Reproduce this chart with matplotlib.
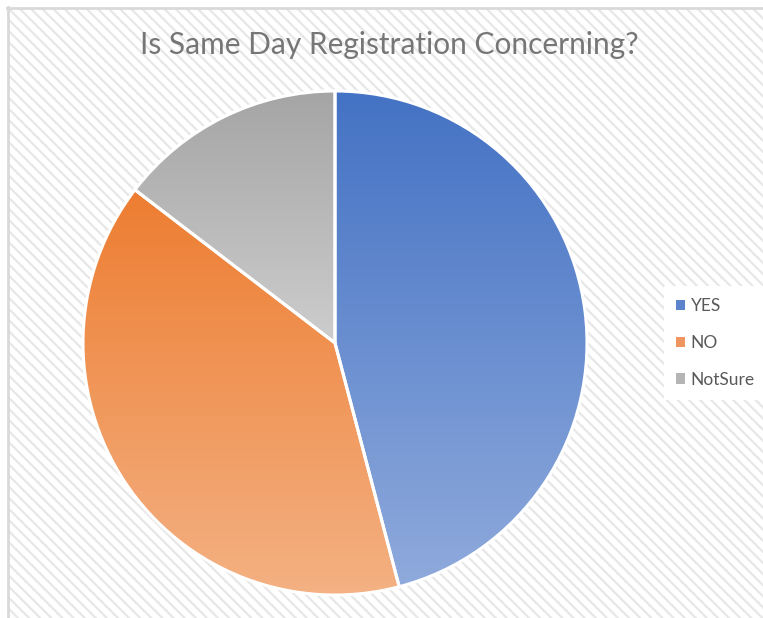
import numpy as np
import matplotlib
matplotlib.use("Agg")
import matplotlib.pyplot as plt
from matplotlib.patches import Rectangle, Patch
from matplotlib.lines import Line2D

labels = ["YES", "NO", "NotSure"]
values = [45.9, 39.5, 14.6]
top_colors = [(68, 114, 196), (237, 125, 49), (165, 165, 165)]
bottom_colors = [(143, 170, 220), (244, 177, 131), (205, 205, 205)]
legend_colors = ["#5b84cc", "#f09560", "#b5b5b5"]
title = "Is Same Day Registration Concerning?"

W, H = 763, 618
plt.rcParams["hatch.linewidth"] = 1.6
plt.rcParams["hatch.color"] = "#e7e7e7"
fig = plt.figure(figsize=(W / 100, H / 100), dpi=100)
fig.patch.set_facecolor("white")

# hatched background and frame
bg = Rectangle((8 / W, 0), 1, 1 - 8 / H, transform=fig.transFigure,
               facecolor="white", edgecolor="#e7e7e7", hatch="\\\\\\",
               linewidth=0, zorder=-5)
fig.patches.append(bg)
fig.add_artist(Line2D([7 / W, 1], [1 - 8 / H, 1 - 8 / H], transform=fig.transFigure,
                      color="#d9d9d9", lw=2, zorder=-4))
fig.add_artist(Line2D([8 / W, 8 / W], [0, 1 - 7 / H], transform=fig.transFigure,
                      color="#d9d9d9", lw=2, zorder=-4))

cx, cy, r = 335, 343, 252
ax = fig.add_axes([(cx - r) / W, (H - cy - r) / H, 2 * r / W, 2 * r / H])
ax.set_zorder(1)
ax.set_facecolor("none")
ax.patch.set_alpha(0)
wedges, _ = ax.pie(values, startangle=90, counterclock=False,
                   wedgeprops=dict(facecolor="none", edgecolor="white", linewidth=2.2))
for w in wedges:
    w.set_zorder(3)

for w, tc, bc in zip(wedges, top_colors, bottom_colors):
    ext = w.get_path().get_extents()
    n = 256
    t = np.linspace(0, 1, n)[:, None]
    tcol = np.array(tc) / 255.0
    bcol = np.array(bc) / 255.0
    grad = tcol[None, :] * (1 - t) + bcol[None, :] * t
    img = np.repeat(grad[:, None, :], 2, axis=1)
    im = ax.imshow(img, extent=[ext.x0, ext.x1, ext.y0, ext.y1], origin="upper",
                   aspect="auto", zorder=2, interpolation="bilinear")
    im.set_clip_path(w)

ax.set_xlim(-1, 1)
ax.set_ylim(-1, 1)
ax.set_aspect("auto")
ax.axis("off")

fig.text(389 / W, 1 - 45 / H, title, ha="center", va="center",
         fontsize=21.5, color="#767676", family="Lato", zorder=5)

handles = [Patch(facecolor=c, edgecolor="none") for c in legend_colors]
leg = fig.legend(handles, labels, loc="center left",
                 bbox_to_anchor=(655 / W, 1 - 343 / H),
                 frameon=True, fancybox=False, framealpha=1,
                 facecolor="white", edgecolor="none",
                 handlelength=0.55, handleheight=0.55, handletextpad=0.3,
                 labelspacing=1.2, borderpad=0.7,
                 prop={"family": "Lato", "size": 12.5})
leg.set_zorder(5)
for txt in leg.get_texts():
    txt.set_color("#595959")

fig.savefig("out.png", dpi=100, facecolor="white")
